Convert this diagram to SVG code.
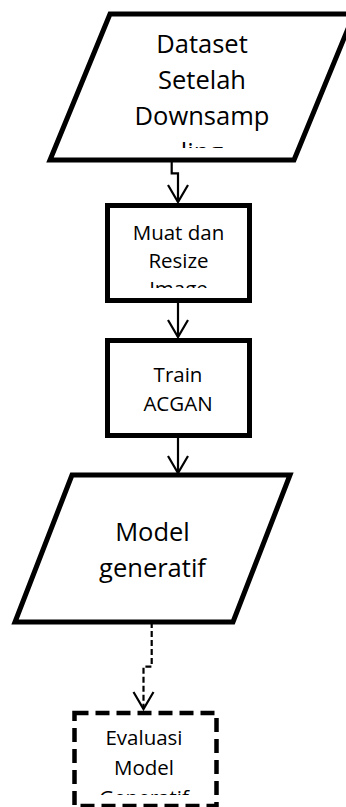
<svg xmlns="http://www.w3.org/2000/svg" width="346" height="807" viewBox="0 0 346 807">
  <style>
    .shape { fill: #ffffff; stroke: #000000; stroke-width: 5; stroke-linejoin: miter; }
    .dashed { stroke-width: 4.5; stroke-dasharray: 14 7; }
    .label { font-family: "Open Sans", "Liberation Sans", sans-serif; fill: #000000; text-anchor: middle; }
    .big { font-size: 25.5px; }
    .small { font-size: 20.5px; }
    .link { fill: none; stroke: #000000; stroke-width: 2.2; }
    .link-dash { stroke-dasharray: 6 3; }
  </style>
  <defs>
    <marker id="open-arrow" markerUnits="userSpaceOnUse" markerWidth="30" markerHeight="30" refX="0" refY="0" viewBox="-20 -15 30 30" orient="auto" overflow="visible">
      <path d="M-17,-10 L0,0 L-17,10" fill="none" stroke="#000000" stroke-width="2.2"/>
    </marker>
    <clipPath id="clip-dataset"><rect x="40" y="18" width="310" height="130"/></clipPath>
    <clipPath id="clip-muat"><rect x="110" y="208" width="137" height="80"/></clipPath>
    <clipPath id="clip-eval"><rect x="77" y="716" width="137" height="79"/></clipPath>
  </defs>

  <!-- connectors -->
  <g id="connectors">
    <path class="link" d="M171.7,160 V173.3 H178 V202" marker-end="url(#open-arrow)"/>
    <path class="link" d="M178,303 V337" marker-end="url(#open-arrow)"/>
    <path class="link" d="M178,438 V473" marker-end="url(#open-arrow)"/>
    <path class="link link-dash" d="M151.7,622 V666.7 H143.5 V709" marker-end="url(#open-arrow)"/>
  </g>

  <!-- input data -->
  <g id="dataset">
    <polygon class="shape" points="110,14 354,14 294,160 50,160"/>
    <g clip-path="url(#clip-dataset)">
      <text class="label big" x="202" y="53">Dataset</text>
      <text class="label big" x="202" y="89">Setelah</text>
      <text class="label big" x="202" y="125">Downsamp</text>
      <text class="label big" x="202" y="161">ling</text>
    </g>
  </g>

  <!-- load and resize -->
  <g id="muat-resize">
    <rect class="shape" x="107.5" y="205.5" width="142" height="95"/>
    <g clip-path="url(#clip-muat)">
      <text class="label small" x="178.5" y="240">Muat dan</text>
      <text class="label small" x="178.5" y="268">Resize</text>
      <text class="label small" x="178.5" y="296">Image</text>
    </g>
  </g>

  <!-- training -->
  <g id="train-acgan">
    <rect class="shape" x="107.5" y="340.5" width="142" height="95"/>
    <text class="label small" x="178" y="382">Train</text>
    <text class="label small" x="178" y="411">ACGAN</text>
  </g>

  <!-- output model -->
  <g id="model-generatif">
    <polygon class="shape" points="72,475 290,475 233,622 15,622"/>
    <text class="label big" x="152.5" y="541">Model</text>
    <text class="label big" x="152.5" y="577">generatif</text>
  </g>

  <!-- evaluation -->
  <g id="evaluasi">
    <rect class="shape dashed" x="74.5" y="713" width="142" height="93"/>
    <g clip-path="url(#clip-eval)">
      <text class="label small" x="144" y="745">Evaluasi</text>
      <text class="label small" x="144" y="775">Model</text>
      <text class="label small" x="144" y="805">Generatif</text>
    </g>
  </g>
</svg>
